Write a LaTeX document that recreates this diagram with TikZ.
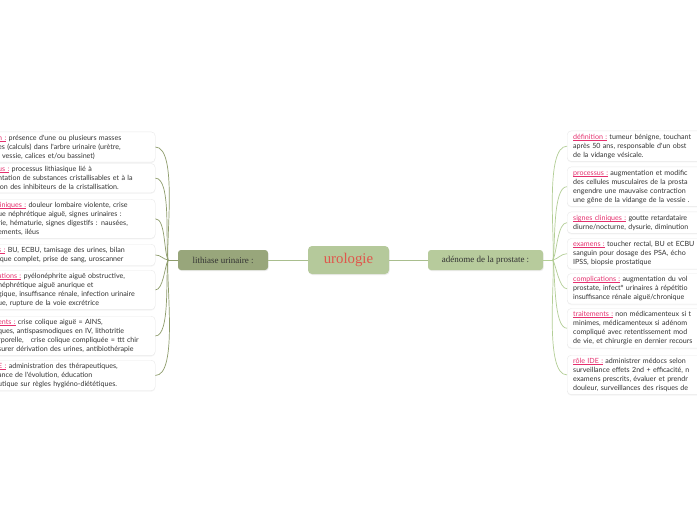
\documentclass[tikz,border=0pt]{standalone}
\usepackage{fontspec}
\setmainfont{Liberation Serif}
\newfontfamily\notefont{Lato}
\usetikzlibrary{positioning,shadows}

\definecolor{rootfill}{HTML}{B5C99B}
\definecolor{rootred}{HTML}{E0564B}
\definecolor{lithfill}{HTML}{98A67B}
\definecolor{adenfill}{HTML}{B7CB9C}
\definecolor{trunk}{HTML}{A9BE8E}
\definecolor{leftline}{HTML}{8E9C6C}
\definecolor{rightline}{HTML}{B3CE96}
\definecolor{notetext}{HTML}{333333}
\definecolor{labelpink}{HTML}{E5306E}
\definecolor{boxline}{HTML}{E9E9E9}

\newcommand{\lbl}[1]{\textcolor{labelpink}{\setbox0\hbox{#1}\rlap{\rule[-1.3pt]{\wd0}{0.55pt}}\box0}}

\begin{document}
\begin{tikzpicture}[x=1pt,y=-1pt,
                root/.style={rectangle, rounded corners=4pt, fill=rootfill, text=rootred, minimum width=81, minimum height=28, inner sep=2pt, font=\fontsize{14.8}{16}\selectfont, drop shadow={opacity=0.15, shadow xshift=0.6pt, shadow yshift=-1pt}},
                topic/.style={rectangle, rounded corners=3pt, text=notetext, minimum height=20, inner sep=2pt, font=\fontsize{9}{10}\selectfont, drop shadow={opacity=0.15, shadow xshift=0.6pt, shadow yshift=-1pt}},
                note/.style={rectangle, rounded corners=4pt, draw=boxline, fill=white, text=notetext, align=left, inner xsep=5pt, inner ysep=3pt, font=\notefont\fontsize{7.1}{9}\selectfont, drop shadow={opacity=0.08, shadow xshift=0pt, shadow yshift=-1pt}},
                lnote/.style={note, anchor=north west, text width=152},
                rnote/.style={note, anchor=north west, inner xsep=6pt, text width=200},
                link/.style={draw=trunk, line width=0.8pt},
                lbranch/.style={draw=leftline, line width=0.7pt},
                rbranch/.style={draw=rightline, line width=0.7pt},
            ]
            \useasboundingbox (0,0) rectangle (697,520);
            \clip (0,0) rectangle (697,520);
            \fill[white] (0,0) rectangle (697,520);

            % centre and main topics
            \node[root] (urologie) at (348.5,260) {urologie};
            \node[topic, fill=lithfill, minimum width=90] (lithiase) at (223,260) {lithiase urinaire :};
            \node[topic, fill=adenfill, minimum width=115] (adenome) at (485.5,260) {adénome de la prostate :};

            \coordinate (lhub) at (168,260);
            \coordinate (rhub) at (553,260);

            % lithiase urinaire
            \node[lnote] (l1) at (-7,131.7)
            {\lbl{n :} présence d'une ou plusieurs masses\\
                es (calculs) dans l'arbre urinaire (urètre,\\
                , vessie, calices et/ou bassinet)};
            \node[lnote] (l2) at (-7,163.3)
            {\lbl{us :} processus lithiasique lié à\\
                ntation de substances cristallisables et à la\\
                ion des inhibiteurs de la cristallisation.};
            \node[lnote] (l3) at (-7,199)
            {\lbl{liniques :} douleur lombaire violente, crise\\
                ue néphrétique aiguë, signes urinaires :\\
                rie, hématurie, signes digestifs : nausées,\\
                ements, iléus};
            \node[lnote] (l4) at (-7,244)
            {\lbl{s :} BU, ECBU, tamisage des urines, bilan\\
                ique complet, prise de sang, uroscanner};
            \node[lnote] (l5) at (-7,270)
            {\lbl{ations :} pyélonéphrite aiguë obstructive,\\
                néphrétique aiguë anurique et\\
                gique, insuffisance rénale, infection urinaire\\
                ue, rupture de la voie excrétrice};
            \node[lnote] (l6) at (-7,316)
            {\lbl{ents :} crise colique aiguë = AINS,\\
                ques, antispasmodiques en IV, lithotritie\\
                rporelle,\ \ \ crise colique compliquée = ttt chir\\
                surer dérivation des urines, antibiothérapie};
            \node[lnote] (l7) at (-7,360)
            {\lbl{E :} administration des thérapeutiques,\\
                ance de l'évolution, éducation\\
                utique sur règles hygiéno-diététiques.};

            % adenome de la prostate
            \node[rnote] (r1) at (567,130.7)
            {\lbl{définition :} tumeur bénigne, touchant\\
                après 50 ans, responsable d'un obst\\
                de la vidange vésicale.};
            \node[rnote] (r2) at (567,166.7)
            {\lbl{processus :} augmentation et modific\\
                des cellules musculaires de la prosta\\
                engendre une mauvaise contraction\\
                une gêne de la vidange de la vessie .};
            \node[rnote] (r3) at (567,211.7)
            {\lbl{signes cliniques :} goutte retardataire\\
                diurne/nocturne, dysurie, diminution};
            \node[rnote] (r4) at (567,238.3)
            {\lbl{examens :} toucher rectal, BU et ECBU\\
                sanguin pour dosage des PSA, écho\\
                IPSS, biopsie prostatique};
            \node[rnote] (r5) at (567,273.3)
            {\lbl{complications :} augmentation du vol\\
                prostate, infect° urinaires à répétitio\\
                insuffisance rénale aiguë/chronique};
            \node[rnote] (r6) at (567,308.3)
            {\lbl{traitements :} non médicamenteux si t\\
                minimes, médicamenteux si adénom\\
                compliqué avec retentissement mod\\
                de vie, et chirurgie en dernier recours};
            \node[rnote] (r7) at (567,355)
            {\lbl{rôle IDE :} administrer médocs selon\\
                surveillance effets 2nd + efficacité, n\\
                examens prescrits, évaluer et prendr\\
                douleur, surveillances des risques de};

            \draw[link] (urologie.west) -- (lithiase.east);
            \draw[link] (urologie.east) -- (adenome.west);
            \draw[lbranch] (lithiase.west) -- (lhub);
            \draw[rbranch] (adenome.east) -- (rhub);

            \draw[lbranch] (lhub) to[out=95,in=0,looseness=0.5] (l1.east);
            \draw[lbranch] (lhub) to[out=100,in=0,looseness=0.5] (l2.east);
            \draw[lbranch] (lhub) to[out=115,in=0,looseness=0.6] (l3.east);
            \draw[lbranch] (lhub) to[out=170,in=0] (l4.east);
            \draw[lbranch] (lhub) to[out=-115,in=0,looseness=0.6] (l5.east);
            \draw[lbranch] (lhub) to[out=-100,in=0,looseness=0.5] (l6.east);
            \draw[lbranch] (lhub) to[out=-95,in=0,looseness=0.5] (l7.east);

            \draw[rbranch] (rhub) to[out=85,in=180,looseness=0.5] (r1.west);
            \draw[rbranch] (rhub) to[out=80,in=180,looseness=0.5] (r2.west);
            \draw[rbranch] (rhub) to[out=65,in=180,looseness=0.6] (r3.west);
            \draw[rbranch] (rhub) to[out=15,in=180] (r4.west);
            \draw[rbranch] (rhub) to[out=-65,in=180,looseness=0.6] (r5.west);
            \draw[rbranch] (rhub) to[out=-80,in=180,looseness=0.5] (r6.west);
            \draw[rbranch] (rhub) to[out=-85,in=180,looseness=0.5] (r7.west);
        \end{tikzpicture}
\end{document}
